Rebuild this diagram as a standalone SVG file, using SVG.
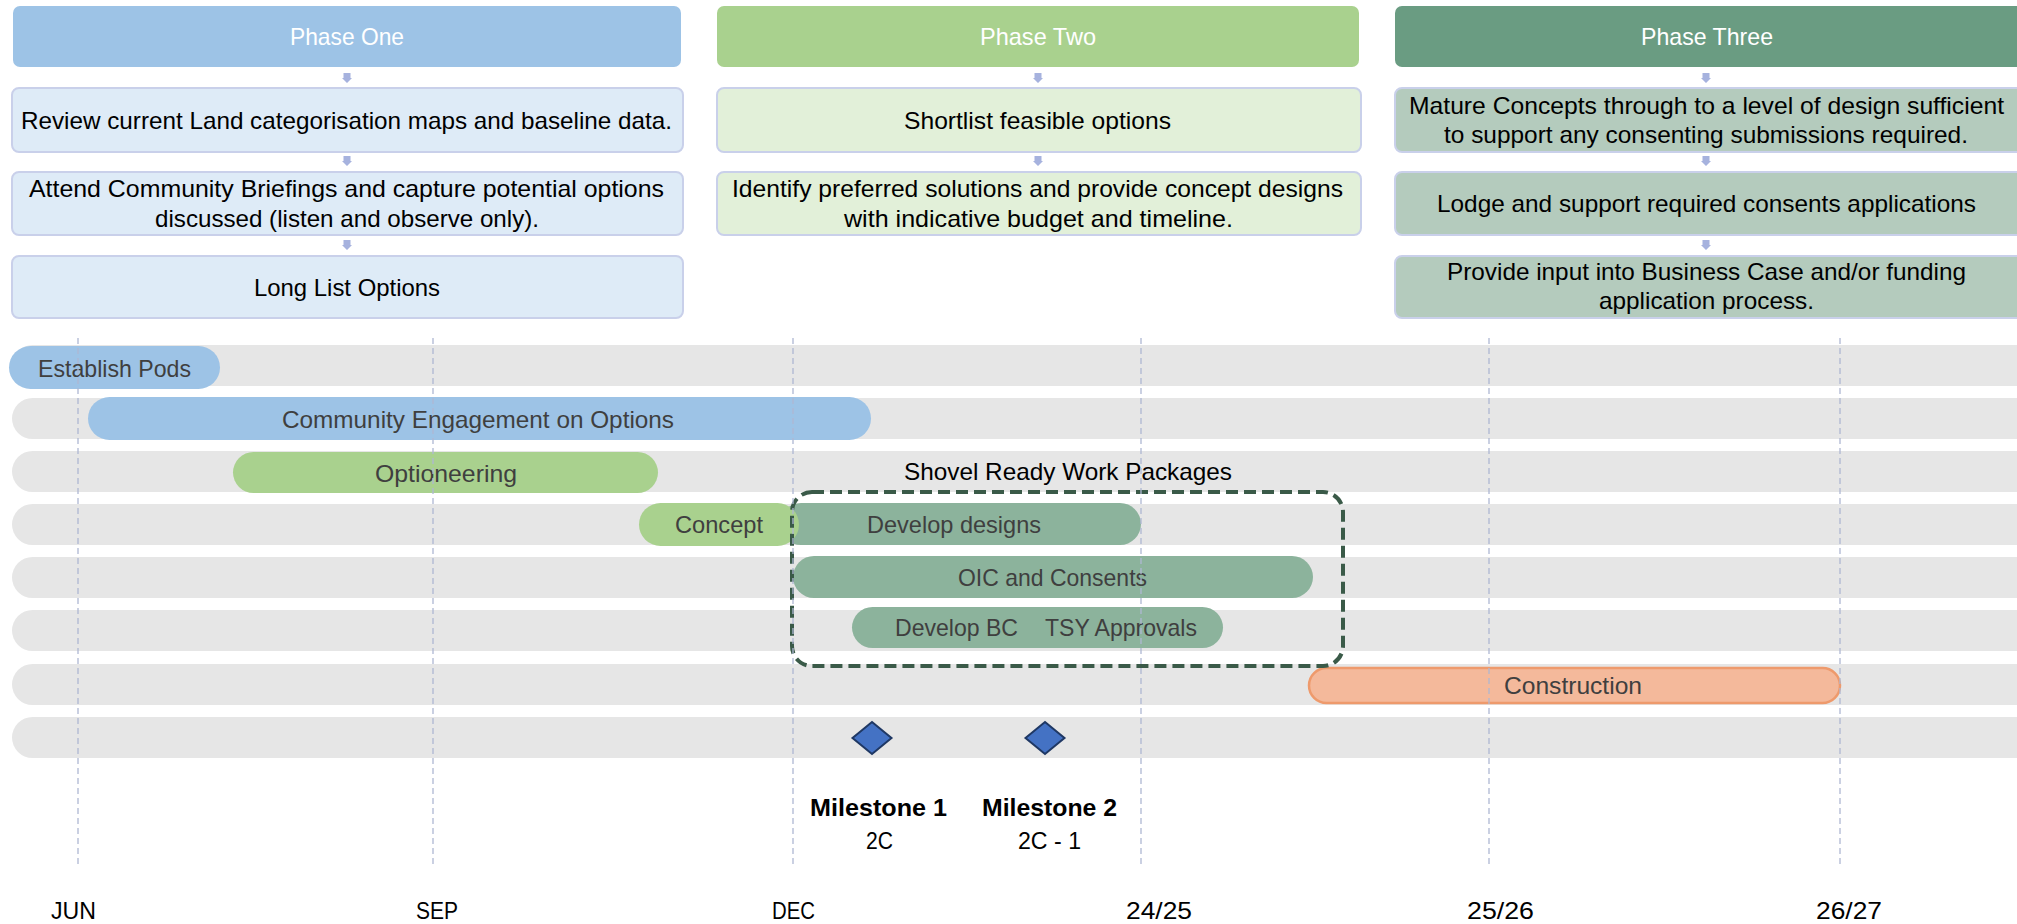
<svg xmlns="http://www.w3.org/2000/svg" width="2017" height="924" viewBox="0 0 2017 924">
<style>
text{font-family:"Liberation Sans",Arial,sans-serif;font-size:24px;text-anchor:middle}
.hd{fill:#ffffff}
.bx{fill:#000000}
.bt{fill:#3f3f3f}
.box{stroke:#c9d0ea;stroke-width:2}
.p1{fill:#deebf7}
.p2{fill:#e2f0d9}
.p3{fill:#b4cbbd}
.band{fill:#e6e6e6}
.blue{fill:#9dc3e6}
.green{fill:#a9d18e}
.dkg{fill:#8cb39c}
.grid{stroke:#aeb7d3;stroke-width:1.3;stroke-dasharray:6 4;fill:none}
.arr{fill:#a6b2de}
.ms{fill:#4472c4;stroke:#1f3864;stroke-width:2}
.bold{font-weight:bold}
</style>
<rect width="2017" height="924" fill="#ffffff"/>

<!-- Phase One -->
<g id="phase-one">
<rect x="13" y="6" width="668" height="61" rx="7" fill="#9dc3e6"/>
<text class="hd" x="347" y="45" textLength="114" lengthAdjust="spacingAndGlyphs">Phase One</text>
</g>
<g id="p1-review">
<rect class="box p1" x="12" y="88" width="671" height="64" rx="7"/>
<text class="bx" x="346.5" y="128.5" textLength="651" lengthAdjust="spacingAndGlyphs">Review current Land categorisation maps and baseline data.</text>
</g>
<g id="p1-attend">
<rect class="box p1" x="12" y="172" width="671" height="63" rx="7"/>
<text class="bx" x="346.5" y="197" textLength="635" lengthAdjust="spacingAndGlyphs">Attend Community Briefings and capture potential options</text>
<text class="bx" x="347" y="227" textLength="384" lengthAdjust="spacingAndGlyphs">discussed (listen and observe only).</text>
</g>
<g id="p1-longlist">
<rect class="box p1" x="12" y="256" width="671" height="62" rx="7"/>
<text class="bx" x="347" y="295.5" textLength="186" lengthAdjust="spacingAndGlyphs">Long List Options</text>
</g>

<!-- Phase Two -->
<g id="phase-two">
<rect x="717" y="6" width="642" height="61" rx="7" fill="#a9d18e"/>
<text class="hd" x="1038" y="45" textLength="116" lengthAdjust="spacingAndGlyphs">Phase Two</text>
</g>
<g id="p2-shortlist">
<rect class="box p2" x="717" y="88" width="644" height="64" rx="7"/>
<text class="bx" x="1037.5" y="128.5" textLength="267" lengthAdjust="spacingAndGlyphs">Shortlist feasible options</text>
</g>
<g id="p2-identify">
<rect class="box p2" x="717" y="172" width="644" height="63" rx="7"/>
<text class="bx" x="1037.5" y="197" textLength="611" lengthAdjust="spacingAndGlyphs">Identify preferred solutions and provide concept designs</text>
<text class="bx" x="1038.5" y="227" textLength="389" lengthAdjust="spacingAndGlyphs">with indicative budget and timeline.</text>
</g>

<!-- Phase Three -->
<g id="phase-three">
<rect x="1395" y="6" width="640" height="61" rx="7" fill="#6a9c82"/>
<text class="hd" x="1707" y="45" textLength="132" lengthAdjust="spacingAndGlyphs">Phase Three</text>
</g>
<g id="p3-mature">
<rect class="box p3" x="1395" y="88" width="640" height="64" rx="7"/>
<text class="bx" x="1706.5" y="113.5" textLength="595" lengthAdjust="spacingAndGlyphs">Mature Concepts through to a level of design sufficient</text>
<text class="bx" x="1706" y="142.5" textLength="524" lengthAdjust="spacingAndGlyphs">to support any consenting submissions required.</text>
</g>
<g id="p3-lodge">
<rect class="box p3" x="1395" y="172" width="640" height="63" rx="7"/>
<text class="bx" x="1706.5" y="211.5" textLength="539" lengthAdjust="spacingAndGlyphs">Lodge and support required consents applications</text>
</g>
<g id="p3-provide">
<rect class="box p3" x="1395" y="256" width="640" height="62" rx="7"/>
<text class="bx" x="1706.5" y="280" textLength="519" lengthAdjust="spacingAndGlyphs">Provide input into Business Case and/or funding</text>
<text class="bx" x="1706.5" y="309" textLength="215" lengthAdjust="spacingAndGlyphs">application process.</text>
</g>

<!-- connectors: small down arrows between boxes -->
<g id="connectors">
<path class="arr" d="M343.5,73 h7 v5 h1.5 l-5,5 l-5,-5 h1.5 z"/>
<path class="arr" d="M343.5,156 h7 v5 h1.5 l-5,5 l-5,-5 h1.5 z"/>
<path class="arr" d="M343.5,240 h7 v5 h1.5 l-5,5 l-5,-5 h1.5 z"/>
<path class="arr" d="M1034.5,73 h7 v5 h1.5 l-5,5 l-5,-5 h1.5 z"/>
<path class="arr" d="M1034.5,156 h7 v5 h1.5 l-5,5 l-5,-5 h1.5 z"/>
<path class="arr" d="M1702.5,73 h7 v5 h1.5 l-5,5 l-5,-5 h1.5 z"/>
<path class="arr" d="M1702.5,156 h7 v5 h1.5 l-5,5 l-5,-5 h1.5 z"/>
<path class="arr" d="M1702.5,240 h7 v5 h1.5 l-5,5 l-5,-5 h1.5 z"/>
</g>

<!-- timeline row bands -->
<g id="rows">
<rect class="band" x="12" y="345" width="2040" height="41" rx="20.5"/>
<rect class="band" x="12" y="398" width="2040" height="41" rx="20.5"/>
<rect class="band" x="12" y="451" width="2040" height="41" rx="20.5"/>
<rect class="band" x="12" y="504" width="2040" height="41" rx="20.5"/>
<rect class="band" x="12" y="557" width="2040" height="41" rx="20.5"/>
<rect class="band" x="12" y="610" width="2040" height="41" rx="20.5"/>
<rect class="band" x="12" y="664" width="2040" height="41" rx="20.5"/>
<rect class="band" x="12" y="717" width="2040" height="41" rx="20.5"/>
</g>

<g id="establish-pods">
<rect class="blue" x="9" y="346" width="211" height="43" rx="21.5"/>
<text class="bt" x="114.5" y="376.5" textLength="153" lengthAdjust="spacingAndGlyphs">Establish Pods</text>
</g>
<g id="community-engagement">
<rect class="blue" x="88" y="397" width="783" height="43" rx="21.5"/>
<text class="bt" x="478" y="427.5" textLength="392" lengthAdjust="spacingAndGlyphs">Community Engagement on Options</text>
</g>
<g id="optioneering">
<rect class="green" x="233" y="452" width="425" height="41" rx="20.5"/>
<text class="bt" x="446" y="481.5" textLength="142" lengthAdjust="spacingAndGlyphs">Optioneering</text>
</g>
<g id="shovel-ready-label">
<text class="bx" x="1068" y="480" textLength="328" lengthAdjust="spacingAndGlyphs">Shovel Ready Work Packages</text>
</g>
<g id="develop-designs">
<rect class="dkg" x="780" y="503" width="361" height="42" rx="21"/>
<text class="bt" x="954" y="533" textLength="174" lengthAdjust="spacingAndGlyphs">Develop designs</text>
</g>
<g id="concept">
<rect class="green" x="639" y="503" width="160" height="43" rx="21.5"/>
<text class="bt" x="719" y="533" textLength="88" lengthAdjust="spacingAndGlyphs">Concept</text>
</g>
<g id="oic-consents">
<rect class="dkg" x="793" y="556" width="520" height="42" rx="21"/>
<text class="bt" x="1052.5" y="586" textLength="189" lengthAdjust="spacingAndGlyphs">OIC and Consents</text>
</g>
<g id="develop-bc">
<rect class="dkg" x="852" y="607" width="196" height="41" rx="20.5"/>
<text class="bt" x="956.5" y="636" textLength="123" lengthAdjust="spacingAndGlyphs">Develop BC</text>
</g>
<g id="tsy-approvals">
<rect class="dkg" x="1034" y="607" width="189" height="41" rx="20.5"/>
<rect class="dkg" x="1025" y="607" width="40" height="41"/>
<text class="bt" x="1121" y="636" textLength="152" lengthAdjust="spacingAndGlyphs">TSY Approvals</text>
</g>
<g id="construction">
<rect x="1309" y="668" width="531" height="35" rx="17.5" fill="#f4b99b" stroke="#ee9a6c" stroke-width="2.5"/>
<text class="bt" x="1573" y="694" textLength="138" lengthAdjust="spacingAndGlyphs">Construction</text>
</g>

<g id="shovel-ready-box">
<rect x="792" y="492" width="551" height="174" rx="20" fill="none" stroke="#3a5a48" stroke-width="4" stroke-dasharray="12 6"/>
</g>

<g id="gridlines">
<line class="grid" x1="78" y1="338" x2="78" y2="867"/>
<line class="grid" x1="433" y1="338" x2="433" y2="867"/>
<line class="grid" x1="793" y1="338" x2="793" y2="867"/>
<line class="grid" x1="1141" y1="338" x2="1141" y2="867"/>
<line class="grid" x1="1489" y1="338" x2="1489" y2="867"/>
<line class="grid" x1="1840" y1="338" x2="1840" y2="867"/>
</g>

<g id="milestone-1">
<polygon class="ms" points="872,722 891.5,738 872,754 852.5,738"/>
<text class="bx bold" x="878.5" y="816" textLength="137" lengthAdjust="spacingAndGlyphs">Milestone 1</text>
<text class="bx" x="879.5" y="849" textLength="27" lengthAdjust="spacingAndGlyphs">2C</text>
</g>
<g id="milestone-2">
<polygon class="ms" points="1045,722 1064.5,738 1045,754 1025.5,738"/>
<text class="bx bold" x="1049.5" y="816" textLength="135" lengthAdjust="spacingAndGlyphs">Milestone 2</text>
<text class="bx" x="1049.5" y="849" textLength="63" lengthAdjust="spacingAndGlyphs">2C - 1</text>
</g>

<g id="axis-labels">
<text class="bx" x="73.5" y="919" textLength="45" lengthAdjust="spacingAndGlyphs">JUN</text>
<text class="bx" x="437" y="919" textLength="42" lengthAdjust="spacingAndGlyphs">SEP</text>
<text class="bx" x="793.5" y="919" textLength="43" lengthAdjust="spacingAndGlyphs">DEC</text>
<text class="bx" x="1159" y="919" textLength="66" lengthAdjust="spacingAndGlyphs">24/25</text>
<text class="bx" x="1500.5" y="919" textLength="67" lengthAdjust="spacingAndGlyphs">25/26</text>
<text class="bx" x="1849" y="919" textLength="66" lengthAdjust="spacingAndGlyphs">26/27</text>
</g>
</svg>
